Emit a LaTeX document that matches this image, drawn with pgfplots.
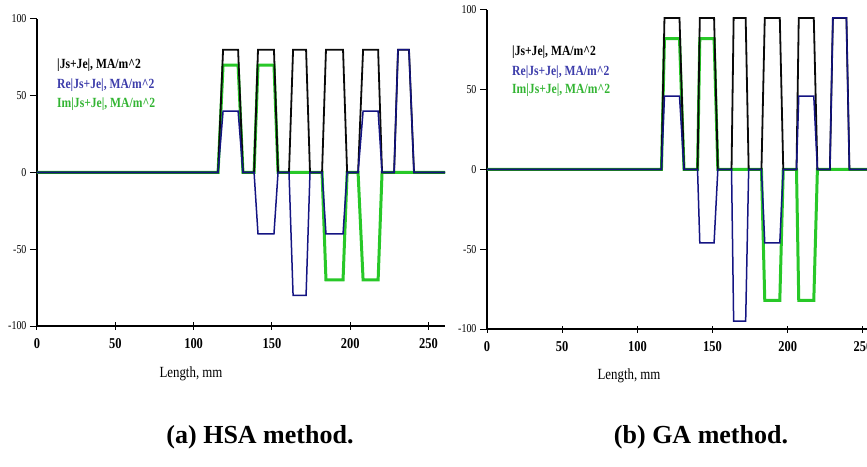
\documentclass[border=0pt]{standalone}
\usepackage{fontspec}
\setmainfont{Liberation Serif}
\newfontfamily\cond[FakeStretch=0.83]{Liberation Serif}
\usepackage{pgfplots}
\pgfplotsset{compat=1.18}

\definecolor{jabs}{RGB}{10,10,10}
\definecolor{jre}{RGB}{20,20,130}
\definecolor{jim}{RGB}{40,200,40}
\definecolor{lre}{RGB}{60,60,170}
\definecolor{lim}{RGB}{50,180,50}

% both panels share the same look
\pgfplotsset{panel/.style={
    scale only axis,
    anchor=south west,
    ymin=-100, ymax=100,
    xmin=0,
    axis x line=bottom, axis y line=left,
    axis line style={-, line width=2.2pt},
    xtick={0,50,100,150,200,250},
    ytick={-100,-50,0,50,100},
    x tick style={line width=1pt, black},
    y tick style={line width=1pt, black},
    xtick align=center, ytick align=outside,
    major tick length=7pt,
    /pgf/number format/assume math mode=true,
    xticklabel style={font=\cond\bfseries\fontsize{15}{15}\selectfont, yshift=-5pt},
    yticklabel style={font=\cond\fontsize{12}{12}\selectfont},
    clip=true,
}}

\begin{document}
\begin{tikzpicture}[x=1pt,y=1pt]
\path[use as bounding box] (0,0) rectangle (867,466);

% (a) HSA
\begin{axis}[panel, at={(37pt,140pt)}, width=408pt, height=307pt, xmax=260.5]
\addplot[jim, line width=3pt] coordinates {
(0,0)(115.6,0)(118.8,70)(128.4,70)(131.5,0)(138.6,0)(141.1,70)(151.3,70)(153.9,0)
(160.9,0)(163.5,0)(171.8,0)(174.3,0)(182,0)(184.5,-70)(195.4,-70)(198,0)
(205,0)(208.2,-70)(217.8,-70)(220.3,0)(228,0)(230.5,0)(237.5,0)(240.7,0)(262,0)};
\addplot[jabs, line width=1.8pt] coordinates {
(0,0)(115.6,0)(118.8,80)(128.4,80)(131.5,0)(138.6,0)(141.1,80)(151.3,80)(153.9,0)
(160.9,0)(163.5,80)(171.8,80)(174.3,0)(182,0)(184.5,80)(195.4,80)(198,0)
(205,0)(208.2,80)(217.8,80)(220.3,0)(228,0)(230.5,80)(237.5,80)(240.7,0)(262,0)};
\addplot[jre, line width=1.5pt] coordinates {
(0,0)(115.6,0)(118.8,40)(128.4,40)(131.5,0)(138.6,0)(141.1,-40)(151.3,-40)(153.9,0)
(160.9,0)(163.5,-80)(171.8,-80)(174.3,0)(182,0)(184.5,-40)(195.4,-40)(198,0)
(205,0)(208.2,40)(217.8,40)(220.3,0)(228,0)(230.5,80)(237.5,80)(240.7,0)(262,0)};
\end{axis}

% (b) GA
\begin{axis}[panel, at={(487pt,137pt)}, width=391pt, height=319pt, xmax=260]
\addplot[jim, line width=3pt] coordinates {
(0,0)(116,0)(118,82)(128,82)(131,0)(140,0)(141.5,82)(151,82)(153.5,0)
(162.6,0)(164,0)(172,0)(174,0)(182.5,0)(184.7,-82)(194.7,-82)(197,0)
(205.8,0)(207.3,-82)(217.3,-82)(219.7,0)(228,0)(230,0)(239,0)(241,0)(262,0)};
\addplot[jabs, line width=1.8pt] coordinates {
(0,0)(116,0)(118,95)(128,95)(131,0)(140,0)(141.5,95)(151,95)(153.5,0)
(162.6,0)(164,95)(172,95)(174,0)(182.5,0)(184.7,95)(194.7,95)(197,0)
(205.8,0)(207.3,95)(217.3,95)(219.7,0)(228,0)(230,95)(239,95)(241,0)(262,0)};
\addplot[jre, line width=1.5pt] coordinates {
(0,0)(116,0)(118,46)(128,46)(131,0)(140,0)(141.5,-46)(151,-46)(153.5,0)
(162.6,0)(164,-95)(172,-95)(174,0)(182.5,0)(184.7,-46)(194.7,-46)(197,0)
(205.8,0)(207.3,46)(217.3,46)(219.7,0)(228,0)(230,95)(239,95)(241,0)(262,0)};
\end{axis}

% legends
\begin{scope}[every node/.style={anchor=west, inner sep=0pt,
    font=\cond\bfseries\fontsize{14}{14}\selectfont}]
\node[text=black] at (57,401) {|Js+Je|, MA/m\^{}2};
\node[text=lre]   at (57,381) {Re|Js+Je|, MA/m\^{}2};
\node[text=lim]   at (57,362) {Im|Js+Je|, MA/m\^{}2};
\node[text=black] at (512,414) {|Js+Je|, MA/m\^{}2};
\node[text=lre]   at (512,394) {Re|Js+Je|, MA/m\^{}2};
\node[text=lim]   at (512,376) {Im|Js+Je|, MA/m\^{}2};
\end{scope}

% axis titles and captions
\node[font=\cond\fontsize{15.5}{16}\selectfont] at (191,92) {Length, mm};
\node[font=\cond\fontsize{15.5}{16}\selectfont] at (629,90) {Length, mm};
\node[font=\bfseries\fontsize{26}{28}\selectfont] at (260,29) {(a) HSA method.};
\node[font=\bfseries\fontsize{26}{28}\selectfont] at (701,29) {(b) GA method.};
\end{tikzpicture}
\end{document}
